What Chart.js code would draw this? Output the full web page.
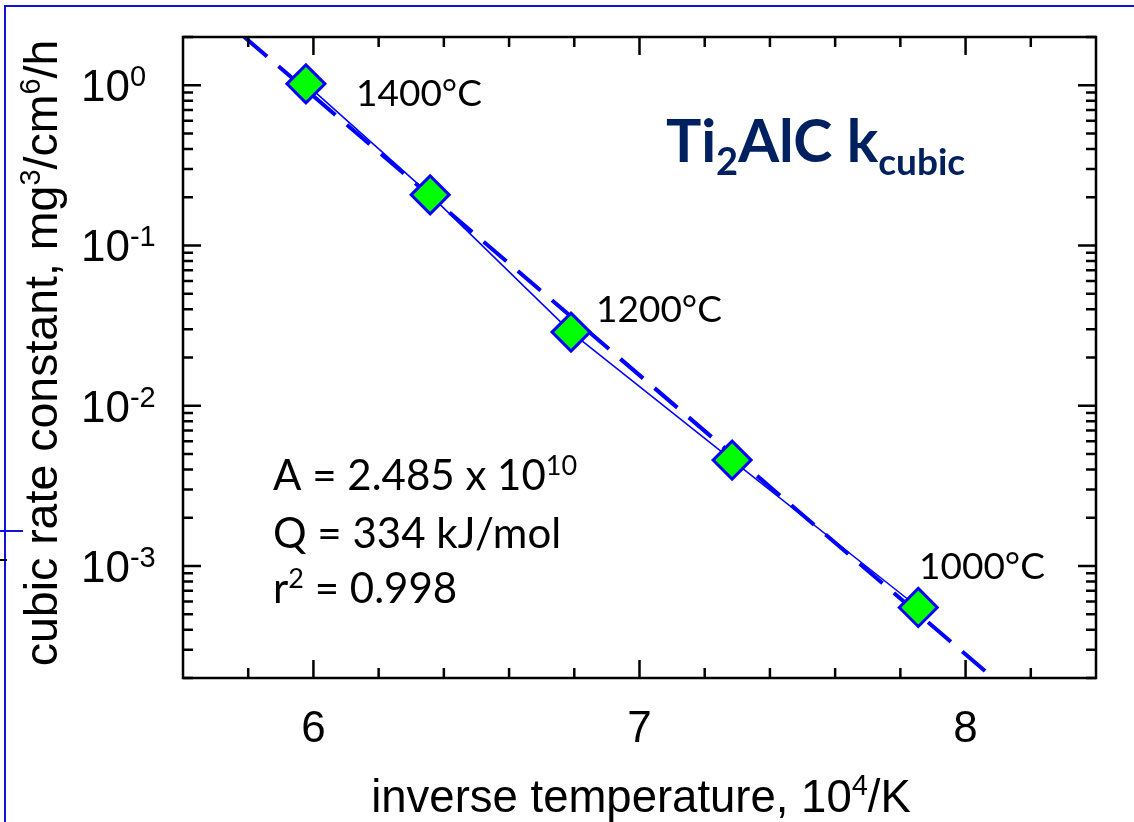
<!DOCTYPE html>
<html lang="en">
<head>
    <meta charset="UTF-8">
    <title>Ti2AlC kcubic</title>
    <script src="https://cdn.jsdelivr.net/npm/chart.js"></script>
    <style>
        body { margin: 0; background: #fff; }
        .box { width: 1134px; height: 822px; }
    </style>
</head>
<body>
<div class="box">
    <canvas id="grafico" width="1134" height="822"></canvas>
</div>
<script>
// dados (x = 10^4/K, y = mg^3/cm^6/h)
const invTemp = [5.977, 6.358, 6.790, 7.284, 7.855];
const kCubic = [1.02, 0.207, 0.0288, 0.00458, 0.000551];

// reta do ajuste (Arrhenius), pontas nas bordas do grafico
const fitX = [5.788, 8.085];
const fitY = [2.0, 0.0002];

// eixos
const xMajor = [6, 7, 8];
const xTickLabels = ['6', '7', '8'];
const yMajor = [1, 0.1, 0.01, 0.001];
const yTickExps = ['0', '-1', '-2', '-3'];

const tempLabels = ['1400°C', '1200°C', '1000°C'];

const SANS = '"Liberation Sans", Arial, sans-serif';
const CAL = 'Lato, "Open Sans", sans-serif';

// desenha texto com pedacos (sobrescrito / subscrito)
function drawParts(ctx, parts, x, y, align) {
    let total = 0;
    parts.forEach(function (p) {
        ctx.font = p.font;
        p.w = ctx.measureText(p.text).width;
        total += p.w;
    });
    if (align === 'center') x = x - total / 2;
    ctx.textAlign = 'left';
    ctx.textBaseline = 'alphabetic';
    parts.forEach(function (p) {
        ctx.font = p.font;
        ctx.fillText(p.text, x, y + (p.dy || 0));
        x += p.w;
    });
}

const moldura = {
    id: 'moldura',
    afterDraw: function (chart) {
        const ctx = chart.ctx;
        const a = chart.chartArea;
        const xs = chart.scales.x;
        const ys = chart.scales.y;
        ctx.save();

        // borda azul do slide
        ctx.strokeStyle = '#1010e0';
        ctx.lineWidth = 2;
        ctx.beginPath();
        ctx.moveTo(5, 822); ctx.lineTo(5, 6); ctx.lineTo(1134, 6);
        ctx.moveTo(0, 531); ctx.lineTo(23, 531);
        ctx.stroke();
        ctx.strokeStyle = '#000';
        ctx.beginPath();
        ctx.moveTo(0, 560); ctx.lineTo(7, 560);
        ctx.stroke();

        // moldura do grafico
        ctx.strokeStyle = '#000';
        ctx.lineWidth = 2.5;
        ctx.strokeRect(a.left, a.top, a.right - a.left, a.bottom - a.top);

        // ticks para dentro, nos quatro lados
        ctx.lineWidth = 2.5;
        ctx.beginPath();
        for (let v = 5.8; v < 8.4; v += 0.2) {
            let px = xs.getPixelForValue(v);
            let len = Math.abs(v - Math.round(v)) < 0.01 ? 18 : 10;
            ctx.moveTo(px, a.bottom); ctx.lineTo(px, a.bottom - len);
            ctx.moveTo(px, a.top); ctx.lineTo(px, a.top + len);
        }
        for (let d = -4; d <= 0; d++) {
            for (let m = 1; m <= 9; m++) {
                let v = m * Math.pow(10, d);
                if (v < 0.0002 || v > 2) continue;
                let py = ys.getPixelForValue(v);
                let len = m === 1 ? 18 : 10;
                ctx.moveTo(a.left, py); ctx.lineTo(a.left + len, py);
                ctx.moveTo(a.right, py); ctx.lineTo(a.right - len, py);
            }
        }
        ctx.stroke();

        ctx.fillStyle = '#000';

        // rotulos do eixo x
        ctx.font = '44px ' + SANS;
        ctx.textAlign = 'center';
        ctx.textBaseline = 'alphabetic';
        xMajor.forEach(function (v, i) {
            ctx.fillText(xTickLabels[i], xs.getPixelForValue(v), 742);
        });

        // rotulos do eixo y (10^n)
        yMajor.forEach(function (v, i) {
            let py = ys.getPixelForValue(v);
            drawParts(ctx, [
                { text: '10', font: '44px ' + SANS },
                { text: yTickExps[i], font: '29px ' + SANS, dy: -15 }
            ], 81, py + 16);
        });

        // titulos dos eixos
        drawParts(ctx, [
            { text: 'inverse temperature, 10', font: '45.5px ' + SANS },
            { text: '4', font: '29px ' + SANS, dy: -17 },
            { text: '/K', font: '45.5px ' + SANS }
        ], 641, 812, 'center');

        ctx.save();
        ctx.translate(57, 353);
        ctx.rotate(-Math.PI / 2);
        drawParts(ctx, [
            { text: 'cubic rate constant, mg', font: '46.5px ' + SANS },
            { text: '3', font: '29px ' + SANS, dy: -17 },
            { text: '/cm', font: '46.5px ' + SANS },
            { text: '6', font: '29px ' + SANS, dy: -17 },
            { text: '/h', font: '46.5px ' + SANS }
        ], 0, 0, 'center');
        ctx.restore();

        // titulo Ti2AlC kcubic
        ctx.fillStyle = '#002060';
        drawParts(ctx, [
            { text: 'Ti', font: 'bold 59px ' + CAL },
            { text: '2', font: 'bold 38px ' + CAL, dy: 13 },
            { text: 'AlC k', font: 'bold 59px ' + CAL },
            { text: 'cubic', font: 'bold 37px ' + CAL, dy: 13 }
        ], 666, 162);

        // temperaturas
        ctx.fillStyle = '#000';
        ctx.font = '37px ' + CAL;
        ctx.textAlign = 'left';
        ctx.fillText(tempLabels[0], 356, 106);
        ctx.fillText(tempLabels[1], 596, 322);
        ctx.fillText(tempLabels[2], 919, 579);

        // parametros do ajuste
        drawParts(ctx, [
            { text: 'A = 2.485 x 10', font: '42px ' + CAL },
            { text: '10', font: '27px ' + CAL, dy: -15 }
        ], 273, 490);
        drawParts(ctx, [
            { text: 'Q = 334 kJ/mol', font: '42px ' + CAL }
        ], 273, 548);
        drawParts(ctx, [
            { text: 'r', font: '42px ' + CAL },
            { text: '2', font: '27px ' + CAL, dy: -15 },
            { text: ' = 0.998', font: '42px ' + CAL }
        ], 273, 603);

        ctx.restore();
    }
};

const pontos = invTemp.map(function (x, i) { return { x: x, y: kCubic[i] }; });
const ajuste = fitX.map(function (x, i) { return { x: x, y: fitY[i] }; });

const config = {
    type: 'scatter',
    data: {
        datasets: [{
            label: 'k cubic',
            data: pontos,
            showLine: true,
            borderColor: '#0000ff',
            borderWidth: 1.5,
            pointStyle: 'rectRot',
            pointRadius: 19,
            pointHoverRadius: 19,
            pointBackgroundColor: '#00ff00',
            pointBorderColor: '#0000ff',
            pointBorderWidth: 3,
            order: 0
        }, {
            label: 'ajuste',
            data: ajuste,
            showLine: true,
            borderColor: '#0000ff',
            borderWidth: 4,
            borderDash: [30, 15],
            pointRadius: 0,
            order: 1
        }]
    },
    options: {
        responsive: false,
        animation: false,
        layout: { padding: { top: 37, right: 38, left: 0, bottom: 0 } },
        plugins: {
            legend: { display: false },
            tooltip: { enabled: false }
        },
        scales: {
            x: {
                type: 'linear',
                min: 5.6,
                max: 8.4,
                ticks: { display: false },
                grid: { display: false },
                border: { display: false },
                afterFit: function (s) { s.height = 144; }
            },
            y: {
                type: 'logarithmic',
                min: 0.0002,
                max: 2,
                ticks: { display: false },
                grid: { display: false },
                border: { display: false },
                afterFit: function (s) { s.width = 183; }
            }
        }
    },
    plugins: [moldura]
};

let grafico = new Chart(document.getElementById('grafico'), config);
</script>
</body>
</html>
